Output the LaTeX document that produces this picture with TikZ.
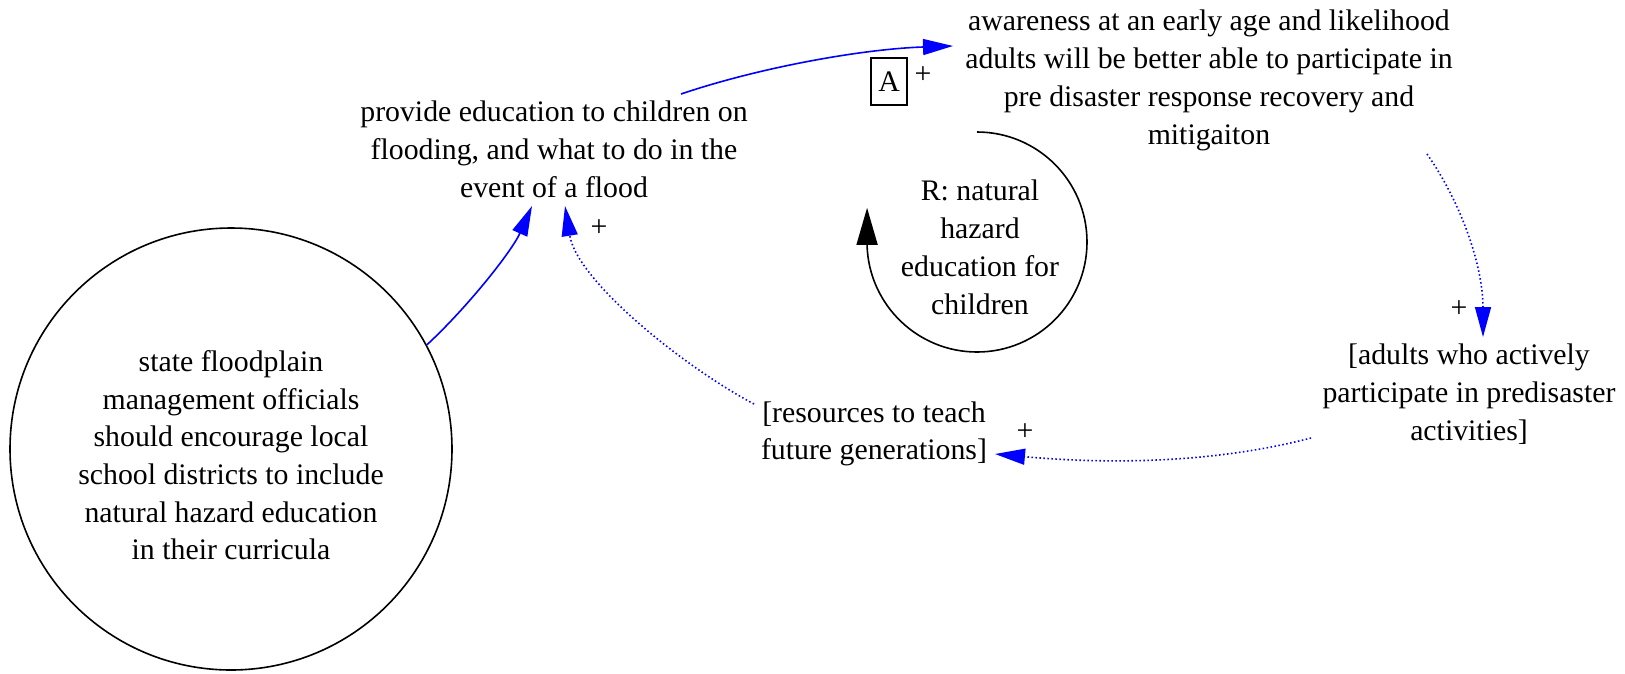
\documentclass[tikz,border=0pt]{standalone}
\usepackage{fontspec}
\setmainfont{Liberation Serif}
\usetikzlibrary{arrows.meta,calc}
\begin{document}
\begin{tikzpicture}[x=1pt,y=1pt,
  txt/.style={font=\fontsize{29.8}{37.7}\selectfont, align=center, inner sep=0pt},
  sign/.style={font=\fontsize{29.8}{37.7}\selectfont, inner sep=0pt},
  poslink/.style={draw=blue, line width=1.6pt, -{Triangle[length=30pt,width=16pt]}},
  dotlink/.style={poslink, dash pattern=on 1.5pt off 2.5pt},
  loopline/.style={draw=black, line width=1.6pt, -{Triangle[length=37pt,width=21pt]}}]
\useasboundingbox (0,0) rectangle (1625,-673);

\node[draw, circle, line width=1.6pt, minimum size=442pt, inner sep=0pt] (state) at (231,-449) {};
\node[txt] (statetxt) at ($(state.center)+(0,-9)$)
  {\strut state floodplain\\management officials\\should encourage local\\school districts to include\\natural hazard education\\in their curricula\strut};
\node[txt] (prov) at (554,-152)
  {\strut provide education to children on\\flooding, and what to do in the\\event of a flood\strut};
\node[txt] (aware) at (1209,-80)
  {\strut awareness at an early age and likelihood\\adults will be better able to participate in\\pre disaster response recovery and\\mitigaiton\strut};
\node[txt] (loop) at (980,-250)
  {\strut R: natural\\hazard\\education for\\children\strut};
\node[txt] (adults) at (1469,-395)
  {\strut [adults who actively\\participate in predisaster\\activities]\strut};
\node[txt] (res) at (874,-433.5)
  {\strut [resources to teach\\future generations]\strut};
\node[draw, line width=1.3pt, minimum width=36pt, minimum height=47pt, inner sep=0pt, sign] (A) at (889,-81.5) {A};
\node[sign] (p1) at (923,-75) {+};
\node[sign] (p2) at (599,-228) {+};
\node[sign] (p3) at (1459,-309) {+};
\node[sign] (p4) at (1025,-432) {+};

% state -> provide
\draw[poslink] (state.28) .. controls +(41,38) and +(-20,-45) .. ($(prov.center)+(-22,-54)$);
% provide -> awareness
\draw[poslink] ($(prov.center)+(127,58)$) .. controls +(80,27) and +(-90,-3) .. ($(aware.center)+(-256,34)$);
% resources -> provide
\draw[dotlink] ($(res.center)+(-120,29.5)$) .. controls +(-70,37) and +(12,-75) .. ($(prov.center)+(11,-54)$);
% awareness -> adults
\draw[dotlink] ($(aware.center)+(218,-74)$) .. controls +(35,-50) and +(0,70) .. ($(adults.center)+(14,58)$);
% adults -> resources
\draw[dotlink] ($(adults.center)+(-158,-43)$) .. controls +(-100,-26) and +(110,-10) .. ($(res.center)+(121,-20.5)$);
% loop
\draw[loopline] ($(loop.center)+(-3,118)$) arc[start angle=90, end angle=-178, radius=110] -- ++(0,38);
\end{tikzpicture}
\end{document}
